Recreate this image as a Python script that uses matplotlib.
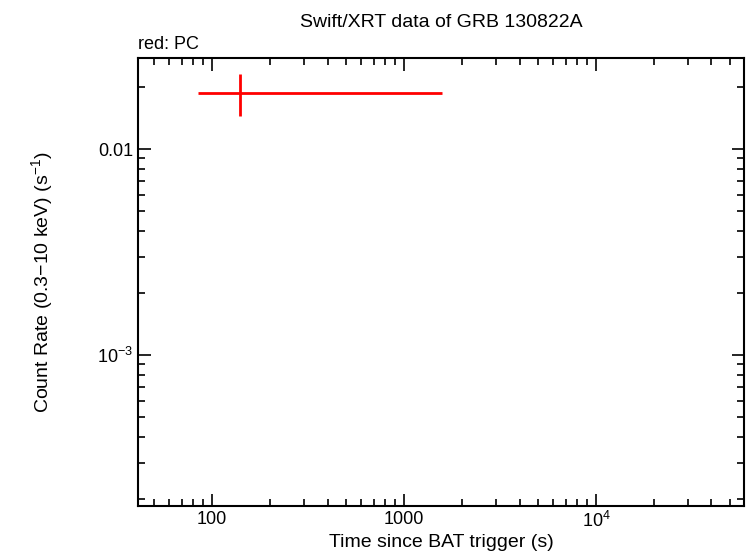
import matplotlib
matplotlib.use('Agg')
import matplotlib.pyplot as plt
from matplotlib.ticker import FixedLocator, FixedFormatter, LogLocator, NullFormatter

plt.rcParams['font.family'] = ['Liberation Sans', 'DejaVu Sans']
plt.rcParams['mathtext.fontset'] = 'custom'
plt.rcParams['mathtext.rm'] = 'Liberation Sans'
plt.rcParams['mathtext.it'] = 'Liberation Sans'

# PC data point
t = [140.0]
t_lo = [84.6]
t_hi = [1577.0]
rate = [0.0187]
rate_lo = [0.01446]
rate_hi = [0.0231]

xerr = [[t[0] - t_lo[0]], [t_hi[0] - t[0]]]
yerr = [[rate[0] - rate_lo[0]], [rate_hi[0] - rate[0]]]

fig = plt.figure(figsize=(7.46, 5.58), dpi=100)
ax = fig.add_axes([0.185, 0.0932, 0.812, 0.803])
ax.errorbar(t, rate, xerr=xerr, yerr=yerr, fmt='none', ecolor='red', elinewidth=2)
ax.set_xscale('log')
ax.set_yscale('log')
ax.set_xlim(41.2, 58900)
ax.set_ylim(1.85e-4, 0.0277)

ax.xaxis.set_major_locator(FixedLocator([100, 1000, 1e4]))
ax.xaxis.set_major_formatter(FixedFormatter(['100', '1000', '$10^4$']))
ax.yaxis.set_major_locator(FixedLocator([1e-3, 1e-2]))
ax.yaxis.set_major_formatter(FixedFormatter(['$10^{-3}$', '0.01']))
ax.xaxis.set_minor_locator(LogLocator(subs=range(2, 10)))
ax.yaxis.set_minor_locator(LogLocator(subs=range(2, 10)))
ax.xaxis.set_minor_formatter(NullFormatter())
ax.yaxis.set_minor_formatter(NullFormatter())
ax.tick_params(which='both', direction='in', top=True, right=True, labelsize=13, width=1.2)
ax.tick_params(which='major', length=9)
ax.tick_params(which='minor', length=5)
for s in ax.spines.values():
    s.set_linewidth(1.5)

ax.set_xlabel('Time since BAT trigger (s)', fontsize=14, labelpad=2)
ax.set_ylabel('Count Rate (0.3$-$10 keV) (s$^{-1}$)', fontsize=14, labelpad=30)
ax.set_title('Swift/XRT data of GRB 130822A', fontsize=14, pad=22)
ax.text(0.0, 1.012, 'red: PC', transform=ax.transAxes, fontsize=13, ha='left', va='bottom')

fig.savefig('out.png', dpi=100)
